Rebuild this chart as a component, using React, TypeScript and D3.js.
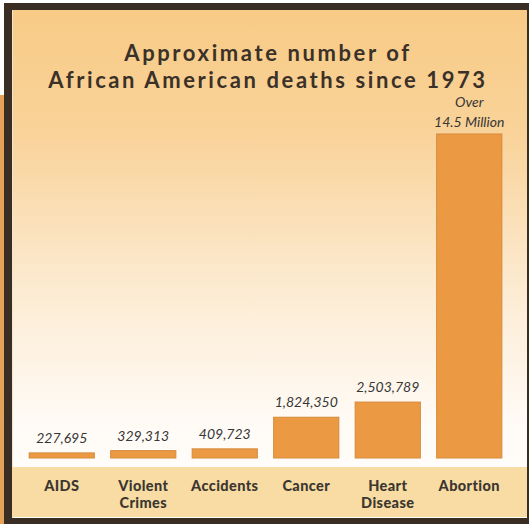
import React from "react";
import * as d3 from "d3";

const categories: string[][] = [["AIDS"], ["Violent", "Crimes"], ["Accidents"], ["Cancer"], ["Heart", "Disease"], ["Abortion"]];
const values: number[] = [227695, 329313, 409723, 1824350, 2503789, 14500000];
const valueLabels: string[][] = [["227,695"], ["329,313"], ["409,723"], ["1,824,350"], ["2,503,789"], ["Over", "14.5 Million"]];
const titleLines: string[] = ["Approximate number of", "African American deaths since 1973"];

export default function App() {
  const W = 532, H = 524;
  const baseY = 458;
  const x = d3.scaleBand<number>().domain(d3.range(categories.length)).range([21, 510]).paddingInner(0.2).paddingOuter(0.1);
  const y = d3.scaleLinear().domain([0, 14500000]).range([baseY, 134]);
  const font = "Lato, 'Open Sans', sans-serif";
  return (
    <svg width={W} height={H} style={{ position: "absolute", left: 0, top: 0 }} xmlns="http://www.w3.org/2000/svg">
      <defs>
        <linearGradient id="bg" x1="0" y1="0" x2="0" y2="1">
          <stop offset="0" stopColor="#f8cb86" />
          <stop offset="0.25" stopColor="#f9d39a" />
          <stop offset="0.55" stopColor="#fcebd2" />
          <stop offset="0.8" stopColor="#fffaf4" />
          <stop offset="1" stopColor="#ffffff" />
        </linearGradient>
      </defs>
      <rect x={0} y={0} width={W} height={H} fill="#ffffff" />
      <rect x={0} y={95} width={6} height={H - 95} fill="#e5a35a" />
      <rect x={4} y={3} width={525} height={521} fill="#3a2e24" />
      <rect x={12} y={10} width={515} height={508} fill="url(#bg)" />
      <line x1={12.5} y1={10} x2={12.5} y2={518} stroke="#f3e6d0" strokeWidth={1} />
      <rect x={12} y={467} width={515} height={50} fill="#f8dca3" />
      {titleLines.map((t, i) => (
        <text key={i} x={268} y={61 + i * 26.5} textAnchor="middle" fontFamily={font} fontWeight={700} fontSize={22} letterSpacing={2.6} fill="#3a3128">{t}</text>
      ))}
      {values.map((v, i) => {
        const n = valueLabels[i].length;
        const gap = 10 - (n - 1) * 3;
        return (
          <g key={i}>
            <rect x={x(i)} y={y(v)} width={x.bandwidth()} height={baseY - y(v)} fill="#eb9a43" stroke="#d58a3a" strokeWidth={1} />
            {valueLabels[i].map((l, j) => (
              <text key={j} x={x(i)! + x.bandwidth() / 2} y={y(v) - gap - (n - 1 - j) * 20} textAnchor="middle" fontFamily={font} fontStyle="italic" fontSize={14} fill="#363636">{l}</text>
            ))}
            {categories[i].map((c, j) => (
              <text key={j} x={x(i)! + x.bandwidth() / 2} y={491 + j * 17} textAnchor="middle" fontFamily={font} fontWeight={900} fontSize={14.5} letterSpacing={0.4} fill="#3b3730">{c}</text>
            ))}
          </g>
        );
      })}
    </svg>
  );
}
